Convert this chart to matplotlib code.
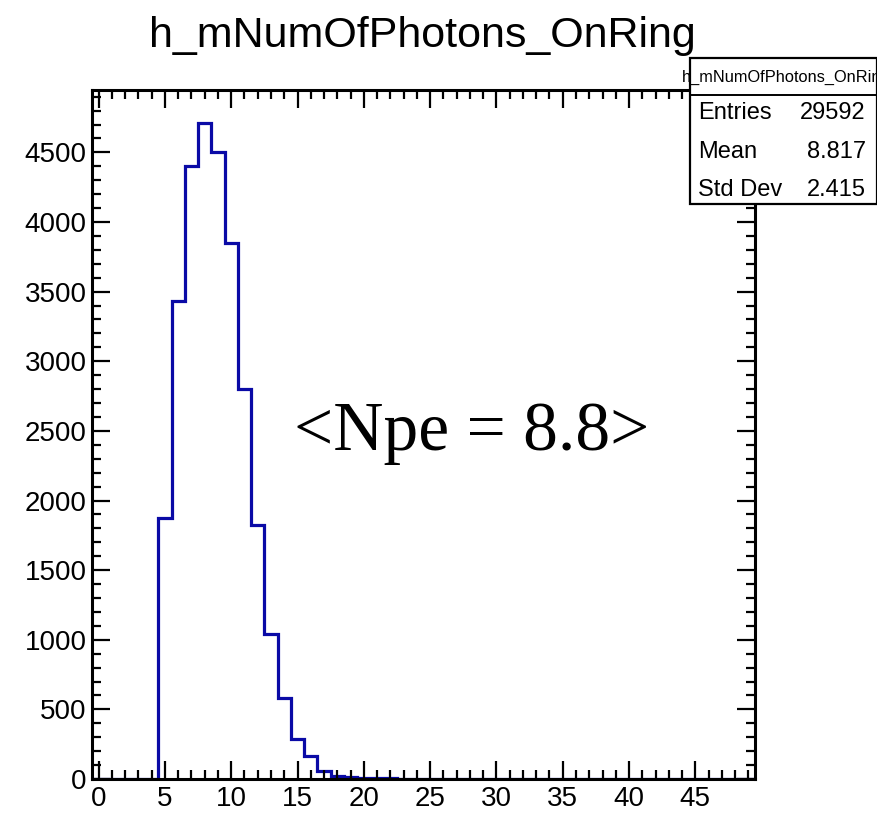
import numpy as np
import matplotlib
matplotlib.use("Agg")
import matplotlib.pyplot as plt
from matplotlib.ticker import MultipleLocator
from matplotlib.patches import Rectangle
from matplotlib.lines import Line2D

# ---- data ----
bin_edges = np.arange(-0.5, 50.0, 1.0)  # 50 bins centred on integers 0..49
counts = [0, 0, 0, 0, 0,
          1871, 3430, 4401, 4709, 4503,
          3848, 2802, 1821, 1041, 584,
          285, 167, 60, 22, 12,
          8, 6, 4, 3, 2,
          2, 1, 0, 0, 0,
          0, 0, 0, 0, 0,
          0, 0, 0, 0, 0,
          0, 0, 0, 0, 0,
          0, 0, 0, 0, 0]
title = "h_mNumOfPhotons_OnRing"
stat_labels = ["Entries", "Mean", "Std Dev"]
stat_values = ["29592", "8.817", "2.415"]
annotation = "<Npe = 8.8>"
x_ticks = [0, 5, 10, 15, 20, 25, 30, 35, 40, 45]
y_ticks = [0, 500, 1000, 1500, 2000, 2500, 3000, 3500, 4000, 4500]

plt.rcParams['font.family'] = ['Liberation Sans', 'DejaVu Sans']

W, H = 878, 815
fig = plt.figure(figsize=(W / 100, H / 100), dpi=100)
fig.patch.set_facecolor('white')


def fx(px):
    return px / W


def fy(py):
    return 1 - py / H


ax = fig.add_axes([fx(92), fy(779), (755 - 92) / W, (779 - 90) / H])
ax.stairs(counts, bin_edges, color='#0a0aa6', linewidth=2.3, baseline=0)
ax.set_xlim(-0.5, 49.5)
ax.set_ylim(0, 4948)

ax.set_xticks(x_ticks)
ax.set_yticks(y_ticks)
ax.xaxis.set_minor_locator(MultipleLocator(1))
ax.yaxis.set_minor_locator(MultipleLocator(100))
ax.tick_params(which='both', direction='in', top=True, right=True, width=1.6, colors='black')
ax.tick_params(which='major', length=13, labelsize=20)
ax.tick_params(axis='x', which='major', pad=5)
ax.tick_params(axis='y', which='major', pad=4)
ax.tick_params(which='minor', length=6.5)
for s in ax.spines.values():
    s.set_linewidth(2.2)
    s.set_color('black')

# annotation
fig.text(fx(472), fy(450), annotation, fontsize=50,
         family=['Liberation Serif', 'DejaVu Serif'], ha='center', va='baseline')

# title
fig.text(fx(422), fy(47), title, fontsize=31, ha='center', va='baseline')

# stats box
box = Rectangle((fx(690), fy(204)), fx(877) - fx(690), fy(58) - fy(204),
                transform=fig.transFigure, facecolor='white', edgecolor='black',
                linewidth=1.6, zorder=5)
fig.patches.append(box)
fig.lines.append(Line2D([fx(690), fx(877)], [fy(95), fy(95)], transform=fig.transFigure,
                        color='black', linewidth=1.4, zorder=6))
fig.text(fx(786), fy(77), title, fontsize=11.8, ha='center', va='center', zorder=7)
row_y = [113, 152, 190]
for lab, val, yy in zip(stat_labels, stat_values, row_y):
    fig.text(fx(698), fy(yy), lab, fontsize=17, ha='left', va='center', zorder=7)
    fig.text(fx(866), fy(yy), val, fontsize=17, ha='right', va='center', zorder=7)

fig.savefig('out.png', dpi=100)
